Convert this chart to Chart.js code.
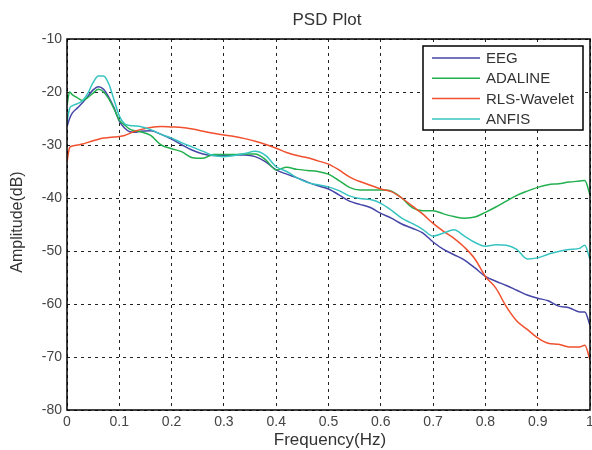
<!DOCTYPE html>
<html>
<head>
<meta charset="utf-8">
<script src="https://cdn.jsdelivr.net/npm/chart.js@4"></script>
<style>
  html, body { margin: 0; padding: 0; background: #fff; }
  #wrap { width: 592px; height: 450px; }
</style>
</head>
<body>
<div id="wrap"><canvas id="psd" width="592" height="450"></canvas></div>
<script>
// frequency samples (Hz)
const freq = [0, 0.005, 0.01, 0.02, 0.03, 0.04, 0.05, 0.06, 0.07, 0.08, 0.09, 0.10, 0.11, 0.12, 0.13, 0.14,
  0.16, 0.18, 0.20, 0.22, 0.24, 0.26, 0.28, 0.30, 0.32, 0.34, 0.36, 0.38, 0.40, 0.42, 0.44, 0.46, 0.48,
  0.50, 0.52, 0.54, 0.56, 0.58, 0.60, 0.62, 0.64, 0.66, 0.68, 0.70, 0.72, 0.74, 0.76, 0.78, 0.80, 0.82,
  0.84, 0.86, 0.88, 0.90, 0.92, 0.94, 0.96, 0.98, 0.99, 1.0];

const eeg = [-26.5, -25, -24, -23, -22, -20.8, -19.6, -19.0, -19.5, -21, -23, -25.5, -26.8, -27.5, -27.6, -27.4,
  -27.3, -28, -28.9, -30, -31, -31.7, -32, -32, -31.9, -31.9, -32.2, -33.2, -34.7, -35.5, -36.2, -37, -37.7,
  -38.3, -39.4, -40.6, -41.2, -41.8, -42.9, -43.8, -44.9, -45.7, -46.6, -48.3, -49.7, -50.7, -51.7, -53.2, -54.8, -55.7,
  -56.5, -57.4, -58.3, -58.9, -59.4, -60.4, -60.7, -61.5, -61.5, -64];

const adaline = [-22.5, -20, -20.5, -21.1, -21.6, -21, -20.2, -19.5, -20, -21.3, -23.2, -25.3, -26.2, -27, -27.3, -27.5,
  -28.2, -30, -30.7, -31.3, -32.4, -32.5, -31.8, -31.8, -31.8, -31.7, -31.7, -32.8, -34.7, -34.2, -34.6, -34.8, -35,
  -35.5, -36.7, -38, -38.5, -38.5, -38.5, -38.7, -40, -41.8, -42.4, -42.4, -43, -43.5, -43.8, -43.6, -42.7, -41.7,
  -40.6, -39.5, -38.7, -38, -37.5, -37.3, -37, -36.8, -36.7, -39.4];

const rlsWavelet = [-33.2, -30.5, -30.2, -30, -29.8, -29.5, -29.2, -28.9, -28.7, -28.6, -28.5, -28.4, -28.2, -27.8, -27.4, -27.1,
  -26.7, -26.5, -26.6, -26.7, -27, -27.4, -27.8, -28.1, -28.4, -28.8, -29.3, -29.9, -30.6, -31.4, -32, -32.4, -33,
  -33.6, -34.7, -36, -36.9, -37.6, -38.3, -38.8, -40, -41.5, -43, -44.8, -46.3, -47.6, -49.3, -51.5, -54.8, -57,
  -60.5, -63.2, -64.8, -66.4, -67.4, -67.6, -68.1, -68.1, -67.8, -70.5];

const anfis = [-25.6, -23.1, -22.6, -22.2, -21.6, -20.2, -18.2, -17, -17, -18.5, -21.5, -24.5, -26, -26.3, -26.4, -26.5,
  -27.1, -28, -28.7, -29.6, -30.4, -31.2, -32, -32.2, -32, -31.6, -31.2, -32, -34.1, -35, -36.2, -37.1, -37.5,
  -37.9, -38.6, -39.6, -40.1, -40.3, -41, -42.3, -43.8, -44.8, -45.9, -47.2, -46.6, -46, -47.2, -48.4, -49.1, -48.8,
  -48.9, -49.7, -51.5, -51.3, -50.6, -50.1, -49.7, -49.5, -48.9, -51.6];

const seriesNames = ["EEG", "ADALINE", "RLS-Wavelet", "ANFIS"];
const seriesValues = [eeg, adaline, rlsWavelet, anfis];
const seriesColors = ["#4545a8", "#22b04e", "#f0502e", "#36c4c0"];

const yTicks = [-10, -20, -30, -40, -50, -60, -70, -80];
const FONT = '"Liberation Sans", Arial, sans-serif';

// frame, titles and legend box drawn on top like the matlab figure
const decor = {
  id: "decor",
  afterDraw(chart) {
    const { ctx, chartArea: a } = chart;
    ctx.save();
    ctx.strokeStyle = "#000";
    ctx.lineWidth = 1.5;
    ctx.strokeRect(a.left, a.top, a.right - a.left, a.bottom - a.top);

    ctx.fillStyle = "#333";
    ctx.font = "17px " + FONT;
    ctx.textAlign = "center";
    ctx.textBaseline = "middle";
    ctx.fillText("PSD Plot", 327, 20);
    ctx.fillText("Frequency(Hz)", 330, 440);
    ctx.save();
    ctx.font = "16px " + FONT;
    ctx.translate(18, 222);
    ctx.rotate(-Math.PI / 2);
    ctx.fillText("Amplitude(dB)", 0, 0);
    ctx.restore();

    // legend
    const bx = a.right - 167, by = a.top + 7, bw = 160, bh = 84;
    ctx.fillStyle = "#fff";
    ctx.fillRect(bx, by, bw, bh);
    ctx.lineWidth = 1.5;
    ctx.strokeStyle = "#000";
    ctx.strokeRect(bx, by, bw, bh);
    ctx.textAlign = "left";
    ctx.font = "15px " + FONT;
    chart.data.datasets.forEach((ds, i) => {
      const yy = by + 12 + i * 20.3;
      ctx.strokeStyle = ds.borderColor;
      ctx.lineWidth = 1.5;
      ctx.beginPath();
      ctx.moveTo(bx + 9, yy);
      ctx.lineTo(bx + 57, yy);
      ctx.stroke();
      ctx.fillStyle = "#333";
      ctx.fillText(ds.label, bx + 63, yy + 1);
    });
    ctx.restore();
  }
};

new Chart(document.getElementById("psd"), {
  type: "line",
  data: {
    datasets: seriesNames.map((name, k) => ({
      label: name,
      data: freq.map((f, i) => ({ x: f, y: seriesValues[k][i] })),
      borderColor: seriesColors[k],
      borderWidth: 1.5,
      pointRadius: 0,
      fill: false,
      cubicInterpolationMode: "monotone",
      order: 4 - k,
    })),
  },
  options: {
    responsive: false,
    animation: false,
    devicePixelRatio: 1,
    layout: { padding: { top: 39, right: 2, left: 0, bottom: 0 } },
    plugins: {
      legend: { display: false },
      title: { display: false },
      tooltip: { enabled: false },
    },
    scales: {
      x: {
        type: "linear",
        min: 0,
        max: 1,
        ticks: {
          stepSize: 0.1,
          color: "#444",
          padding: 4,
          maxRotation: 0,
          font: { family: FONT, size: 14 },
          callback: (v) => String(+v.toFixed(2)),
        },
        grid: { color: "#222", lineWidth: 1, drawTicks: false },
        border: { display: false, dash: [3, 4] },
        afterFit: (s) => { s.height = 40; s.paddingRight = 0; s.paddingLeft = 0; },
      },
      y: {
        type: "linear",
        min: -80,
        max: -10,
        afterBuildTicks: (s) => { s.ticks = yTicks.map((v) => ({ value: v })); },
        ticks: {
          color: "#444",
          padding: 5,
          font: { family: FONT, size: 14 },
        },
        grid: { color: "#222", lineWidth: 1, drawTicks: false },
        border: { display: false, dash: [3, 4] },
        afterFit: (s) => { s.width = 67; s.paddingTop = 0; s.paddingBottom = 0; },
      },
    },
  },
  plugins: [decor],
});
</script>
</body>
</html>
